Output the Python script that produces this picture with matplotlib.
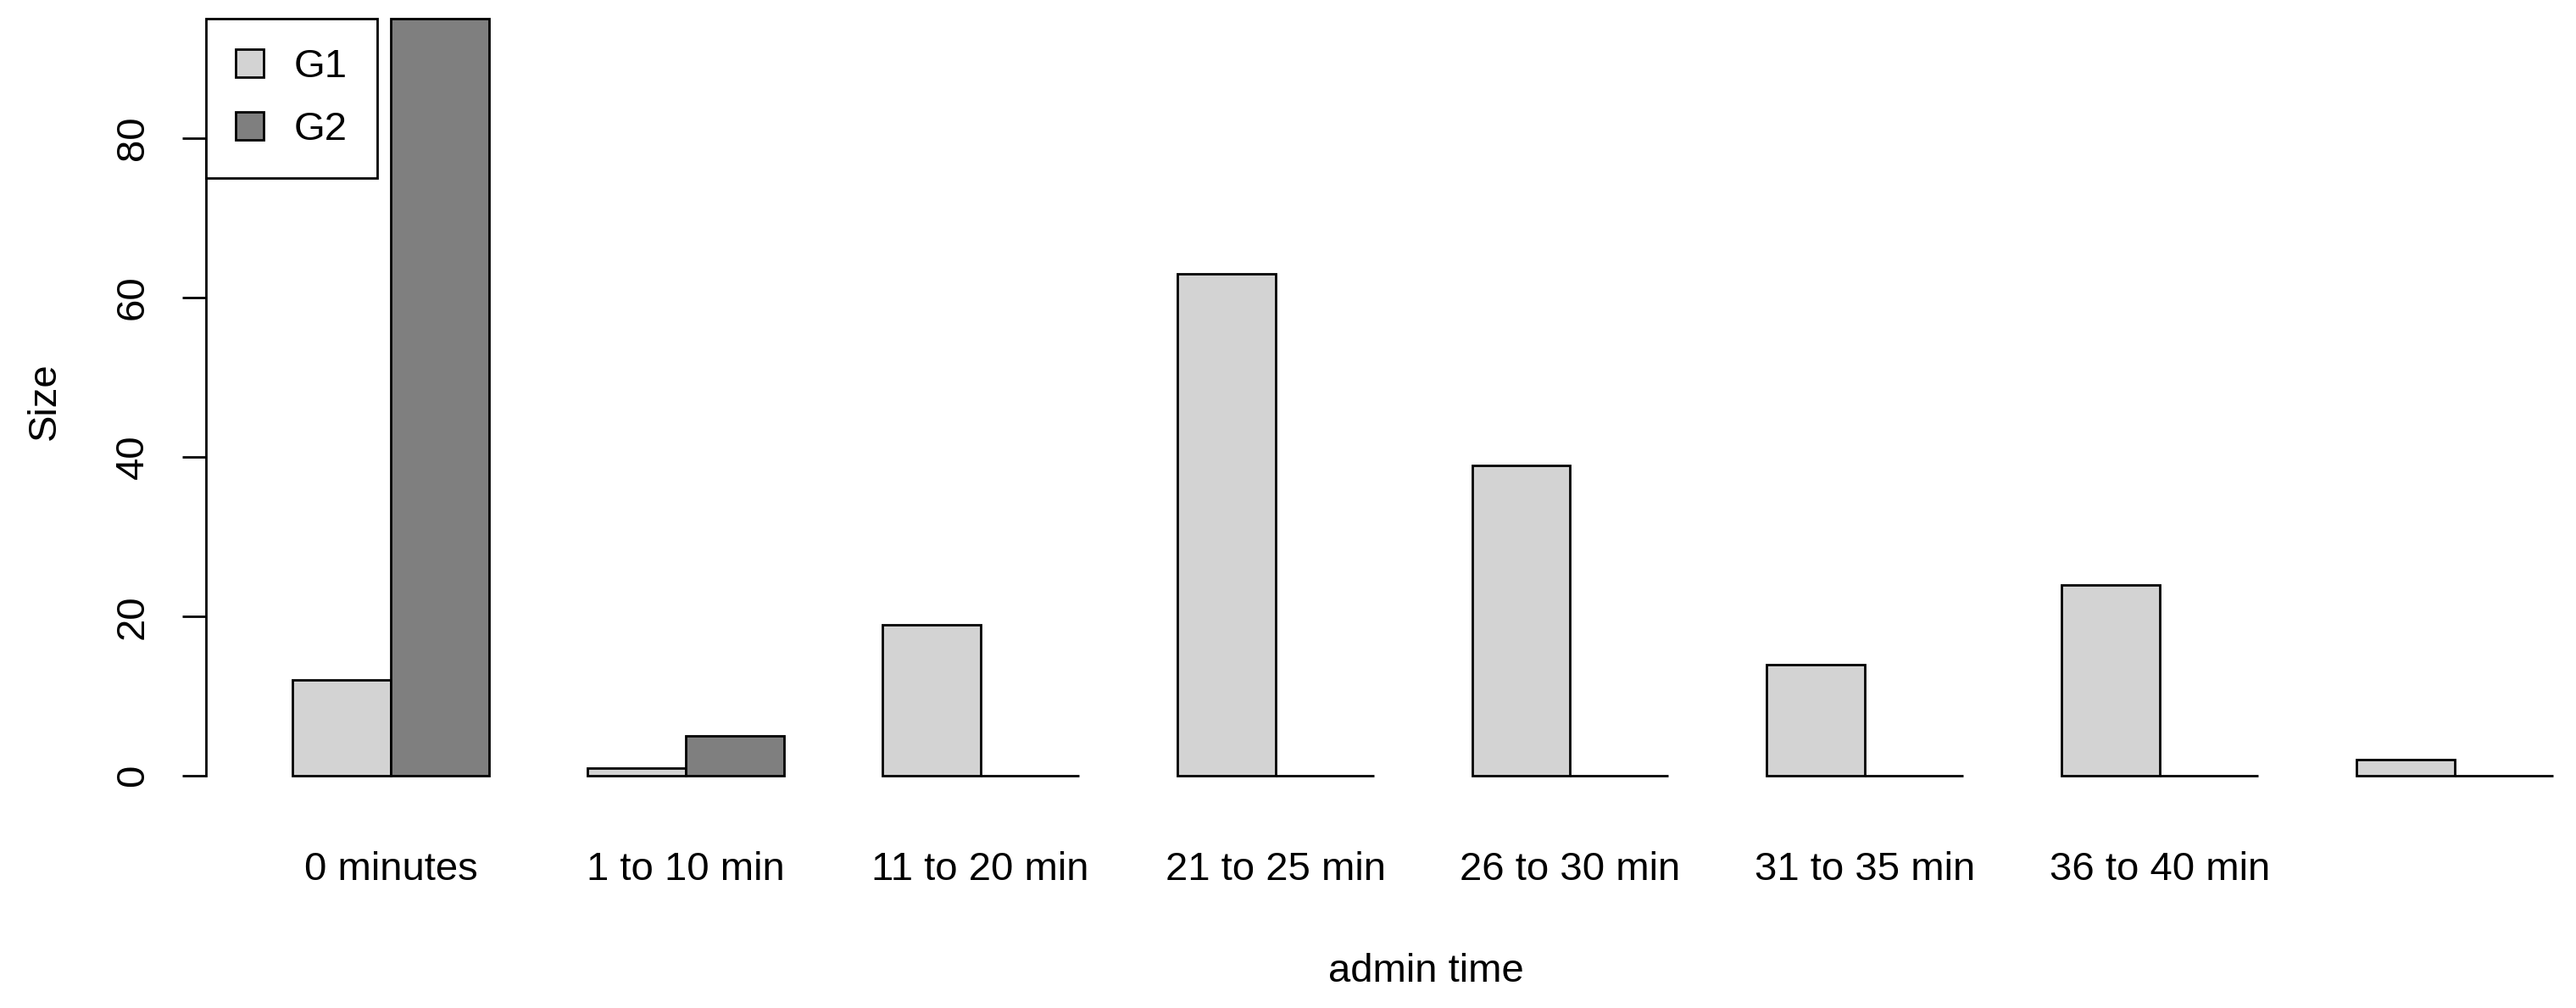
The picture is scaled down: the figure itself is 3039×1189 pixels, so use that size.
"""
plot.py — grouped bar chart of admin time (R barplot look)
"""
import numpy as np
import matplotlib
matplotlib.use("Agg")
import matplotlib.pyplot as plt
import matplotlib.patches as mpatches

# ── Data ──────────────────────────────────────────────────────────────
CATEGORIES = ["0 minutes", "1 to 10 min", "11 to 20 min", "21 to 25 min",
              "26 to 30 min", "31 to 35 min", "36 to 40 min", ""]
G1 = [12, 1, 19, 63, 39, 14, 24, 2]
G2 = [95, 5, 0, 0, 0, 0, 0, 0]
SERIES_NAMES = ["G1", "G2"]
Y_TICKS = [0, 20, 40, 60, 80]

COLORS = ["#D3D3D3", "#7F7F7F"]
FS = 34
LW = 2.0

plt.rcParams["font.family"] = ["Liberation Sans", "DejaVu Sans"]

# ── Figure / axes ─────────────────────────────────────────────────────
W, H = 3039, 1189
fig = plt.figure(figsize=(W / 100, H / 100), dpi=100)
ax = fig.add_axes([243 / W, 1 - 951 / H, 1 - 243 / W, 951 / H])

# R style beside=TRUE: space 1 before each group, bar width 1
n = len(CATEGORIES)
left1 = 1 + 3 * np.arange(n)
left2 = left1 + 1
centers = left1 + 1

ax.bar(left1, G1, width=1, align="edge", color=COLORS[0],
       edgecolor="black", linewidth=LW)
ax.bar(left2, G2, width=1, align="edge", color=COLORS[1],
       edgecolor="black", linewidth=LW)

ax.set_xlim(0.12, 24 + 27 / 116)
ax.set_ylim(-3.8, 915 / 9.4)

# ── Axes styling ──────────────────────────────────────────────────────
for s in ["top", "right", "bottom"]:
    ax.spines[s].set_visible(False)
ax.spines["left"].set_bounds(Y_TICKS[0], Y_TICKS[-1])
ax.spines["left"].set_linewidth(LW)

ax.set_yticks(Y_TICKS)
ax.set_yticklabels([str(t) for t in Y_TICKS], rotation=90, va="center")
ax.tick_params(axis="y", length=20, width=LW, pad=26, labelsize=FS)

ax.set_xticks(centers)
ax.set_xticklabels(CATEGORIES)
ax.tick_params(axis="x", length=0, pad=38, labelsize=FS)

# axis titles
fig.text(1682 / W, 1 - 1158 / H, "admin time", fontsize=FS,
         ha="center", va="baseline")
fig.text(65 / W, 1 - 473 / H, "Size", fontsize=FS, rotation=90,
         rotation_mode="anchor", ha="center", va="baseline")

# ── Legend ────────────────────────────────────────────────────────────
handles = [mpatches.Patch(facecolor=c, edgecolor="black", linewidth=LW, label=nm)
           for c, nm in zip(COLORS, SERIES_NAMES)]
leg = ax.legend(handles=handles, loc="upper left",
                bbox_to_anchor=(0.12, 95), bbox_transform=ax.transData,
                fontsize=FS, frameon=True, fancybox=False, framealpha=1,
                edgecolor="black", borderaxespad=0, borderpad=0.75,
                handlelength=0.7, handleheight=0.7, handletextpad=0.75,
                labelspacing=0.62)
leg.get_frame().set_linewidth(LW)

fig.savefig("out.png", dpi=100)
plt.close(fig)
